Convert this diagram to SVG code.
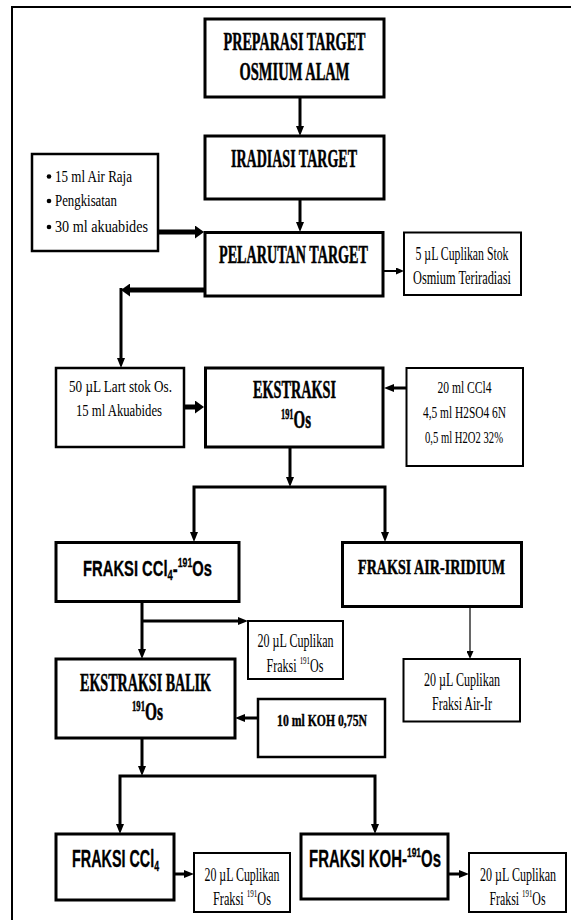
<svg xmlns="http://www.w3.org/2000/svg" width="571" height="920" viewBox="0 0 571 920">
<defs>
<style>
.box{fill:#fff;stroke:#000;stroke-width:3}
.mbox{fill:#fff;stroke:#000;stroke-width:2.5}
.sbox{fill:#fff;stroke:#000;stroke-width:2}
.t{font-family:"Liberation Serif","Times New Roman",serif;font-weight:bold;font-size:25px;text-anchor:middle;fill:#000;stroke:#000;stroke-width:0.5}
.s{font-family:"Liberation Sans",Arial,sans-serif;font-weight:bold;font-size:23px;text-anchor:middle;fill:#000;stroke:#000;stroke-width:0.3}
.r{font-family:"Liberation Serif","Times New Roman",serif;font-size:19px;text-anchor:middle;fill:#000}
.rl{font-family:"Liberation Serif","Times New Roman",serif;font-size:17px;text-anchor:start;fill:#000}
.ln{fill:none;stroke:#000;stroke-width:3}
.thick{stroke-width:5}
.thin{stroke-width:2}
.hair{stroke-width:1.2}
</style>
<marker id="ah" markerUnits="userSpaceOnUse" viewBox="0 0 10 8" markerWidth="10" markerHeight="8" refX="0" refY="4" orient="auto-start-reverse"><path d="M0,0L10,4L0,8z" fill="#000"/></marker>
<marker id="ahb" markerUnits="userSpaceOnUse" viewBox="0 0 9 13" markerWidth="9" markerHeight="13" refX="0" refY="6.5" orient="auto"><path d="M0,0L9,6.5L0,13z" fill="#000"/></marker>
<marker id="ahs" markerUnits="userSpaceOnUse" viewBox="0 0 8 7" markerWidth="8" markerHeight="7" refX="0" refY="3.5" orient="auto"><path d="M0,0L8,3.5L0,7z" fill="#000"/></marker>
</defs>
<rect width="571" height="920" fill="#fff"/>
<path d="M12,920V7H571" fill="none" stroke="#000" stroke-width="2"/>

<g id="connectors">
<path class="ln" d="M300,97V126" marker-end="url(#ah)"/>
<path class="ln" d="M300,199V222" marker-end="url(#ah)"/>
<path class="ln thick" d="M158,232H195" marker-end="url(#ahb)"/>
<path class="ln thin" d="M383,271H396" marker-end="url(#ahs)"/>
<path class="ln thick" d="M205,290H130" marker-end="url(#ahb)"/>
<path class="ln" d="M121,288V358" marker-end="url(#ah)"/>
<path class="ln thick" d="M184,407H195" marker-end="url(#ahb)"/>
<path class="ln" d="M406,388H394" marker-end="url(#ah)"/>
<path class="ln" d="M290,447V477" marker-end="url(#ah)"/>
<path class="ln" d="M194,532V487H385V532" marker-start="url(#ah)" marker-end="url(#ah)"/>
<path class="ln" d="M142,602V649" marker-end="url(#ah)"/>
<path class="ln" d="M142,621H238" marker-end="url(#ah)"/>
<path class="ln hair" d="M470,607V651" marker-end="url(#ahs)"/>
<path class="ln" d="M258,718H245" marker-end="url(#ah)"/>
<path class="ln" d="M142,738V766" marker-end="url(#ah)"/>
<path class="ln" d="M120,824V776H375V824" marker-start="url(#ah)" marker-end="url(#ah)"/>
<path class="ln" d="M174,874H184" marker-end="url(#ah)"/>
<path class="ln" d="M448,874H459" marker-end="url(#ah)"/>
</g>

<g id="n-preparasi">
<rect class="box" x="205" y="19" width="179" height="78"/>
<text class="t" transform="translate(294.5,50) scale(0.56,1)" textLength="253.6" lengthAdjust="spacingAndGlyphs">PREPARASI TARGET</text>
<text class="t" transform="translate(294.5,80) scale(0.56,1)" textLength="196.4" lengthAdjust="spacingAndGlyphs">OSMIUM ALAM</text>
</g>
<g id="n-iradiasi">
<rect class="box" x="205" y="136" width="179" height="63"/>
<text class="t" transform="translate(294,166.7) scale(0.56,1)" textLength="225" lengthAdjust="spacingAndGlyphs">IRADIASI TARGET</text>
</g>
<g id="n-bahan-pelarutan">
<rect class="mbox" x="32" y="154" width="126" height="97"/>
<circle cx="49" cy="176.5" r="2.3"/>
<circle cx="49" cy="201" r="2.3"/>
<circle cx="49" cy="227" r="2.3"/>
<text class="rl" transform="translate(55,181.7) scale(0.77,1)" textLength="100" lengthAdjust="spacingAndGlyphs">15 ml Air Raja</text>
<text class="rl" transform="translate(55,206) scale(0.77,1)" textLength="80.5" lengthAdjust="spacingAndGlyphs">Pengkisatan</text>
<text class="rl" transform="translate(55,232) scale(0.77,1)" textLength="120.8" lengthAdjust="spacingAndGlyphs">30 ml akuabides</text>
</g>
<g id="n-pelarutan">
<rect class="box" x="205" y="232.5" width="178" height="63.5"/>
<text class="t" transform="translate(293.5,263) scale(0.56,1)" textLength="266" lengthAdjust="spacingAndGlyphs">PELARUTAN TARGET</text>
</g>
<g id="n-cuplikan-stok">
<rect class="sbox" x="404" y="232.5" width="117" height="62.5"/>
<text class="r" style="font-size:18px" transform="translate(462,260) scale(0.65,1)" textLength="143" lengthAdjust="spacingAndGlyphs">5 µL Cuplikan Stok</text>
<text class="r" style="font-size:18px" transform="translate(462,284) scale(0.65,1)" textLength="150.8" lengthAdjust="spacingAndGlyphs">Osmium Teriradiasi</text>
</g>
<g id="n-lart-stok">
<rect class="mbox" x="56" y="368" width="128" height="79"/>
<text class="r" style="font-size:17px" transform="translate(120.5,391.7) scale(0.76,1)" textLength="135.5" lengthAdjust="spacingAndGlyphs">50 µL Lart stok Os.</text>
<text class="r" style="font-size:17px" transform="translate(119,415.7) scale(0.76,1)" textLength="113.2" lengthAdjust="spacingAndGlyphs">15 ml Akuabides</text>
</g>
<g id="n-ekstraksi">
<rect class="box" x="205.5" y="368" width="177.5" height="79"/>
<text class="t" transform="translate(294.5,398) scale(0.56,1)" textLength="148.2" lengthAdjust="spacingAndGlyphs">EKSTRAKSI</text>
<text class="t" transform="translate(296,428) scale(0.6,1)" textLength="50" lengthAdjust="spacingAndGlyphs"><tspan font-size="14" dy="-9">191</tspan><tspan dy="9">Os</tspan></text>
</g>
<g id="n-reagen-ekstraksi">
<rect class="sbox" x="406.5" y="368" width="116.5" height="98"/>
<text class="r" style="font-size:17px" transform="translate(464.5,393) scale(0.66,1)" textLength="81.8" lengthAdjust="spacingAndGlyphs">20 ml CCl4</text>
<text class="r" style="font-size:17px" transform="translate(464.5,418) scale(0.66,1)" textLength="125.8" lengthAdjust="spacingAndGlyphs">4,5 ml H2SO4 6N</text>
<text class="r" style="font-size:17px" transform="translate(464,443) scale(0.66,1)" textLength="118.2" lengthAdjust="spacingAndGlyphs">0,5 ml H2O2 32%</text>
</g>
<g id="n-fraksi-ccl4-os">
<rect class="box" x="56" y="542.5" width="183" height="59"/>
<text class="s" style="font-size:22px" transform="translate(147.5,576) scale(0.67,1)" textLength="192.5" lengthAdjust="spacingAndGlyphs">FRAKSI CCl<tspan font-size="14" dy="4">4</tspan><tspan dy="-4">-</tspan><tspan font-size="13" dy="-9">191</tspan><tspan dy="9">Os</tspan></text>
</g>
<g id="n-fraksi-air-iridium">
<rect class="box" x="342.5" y="542.5" width="179" height="64"/>
<text class="t" style="font-size:22px" transform="translate(431.5,574) scale(0.64,1)" textLength="229.7" lengthAdjust="spacingAndGlyphs">FRAKSI AIR-IRIDIUM</text>
</g>
<g id="n-cuplikan-fraksi-os-1">
<rect class="sbox" x="248" y="621" width="95" height="58"/>
<text class="r" transform="translate(295.5,647) scale(0.64,1)" textLength="118.8" lengthAdjust="spacingAndGlyphs">20 µL Cuplikan</text>
<text class="r" transform="translate(295,672) scale(0.64,1)" textLength="89" lengthAdjust="spacingAndGlyphs">Fraksi <tspan font-size="11" dy="-8">191</tspan><tspan dy="8">Os</tspan></text>
</g>
<g id="n-cuplikan-air-ir">
<rect class="sbox" x="403.5" y="659" width="116.5" height="62.5"/>
<text class="r" transform="translate(462,686) scale(0.64,1)" textLength="118.8" lengthAdjust="spacingAndGlyphs">20 µL Cuplikan</text>
<text class="r" transform="translate(462,710) scale(0.64,1)" textLength="93.8" lengthAdjust="spacingAndGlyphs">Fraksi Air-Ir</text>
</g>
<g id="n-ekstraksi-balik">
<rect class="box" x="56" y="659" width="179" height="79"/>
<text class="t" transform="translate(145.5,690.7) scale(0.56,1)" textLength="234" lengthAdjust="spacingAndGlyphs">EKSTRAKSI BALIK</text>
<text class="t" transform="translate(147.5,720) scale(0.6,1)" textLength="51.7" lengthAdjust="spacingAndGlyphs"><tspan font-size="14" dy="-9">191</tspan><tspan dy="9">Os</tspan></text>
</g>
<g id="n-koh">
<rect class="mbox" x="258" y="699" width="127" height="58"/>
<text class="t" style="font-size:17px;stroke-width:0.4" transform="translate(322,726) scale(0.69,1)" textLength="130.4" lengthAdjust="spacingAndGlyphs">10 ml KOH 0,75N</text>
</g>
<g id="n-fraksi-ccl4">
<rect class="box" x="56" y="834" width="118" height="66"/>
<text class="s" transform="translate(115.5,867) scale(0.624,1)" textLength="139.4" lengthAdjust="spacingAndGlyphs">FRAKSI CCl<tspan font-size="14" dy="4">4</tspan></text>
</g>
<g id="n-cuplikan-fraksi-os-2">
<rect class="sbox" x="194" y="853" width="96" height="59"/>
<text class="r" transform="translate(242,881) scale(0.64,1)" textLength="117.2" lengthAdjust="spacingAndGlyphs">20 µL Cuplikan</text>
<text class="r" transform="translate(242,905) scale(0.64,1)" textLength="90.6" lengthAdjust="spacingAndGlyphs">Fraksi <tspan font-size="11" dy="-8">191</tspan><tspan dy="8">Os</tspan></text>
</g>
<g id="n-fraksi-koh-os">
<rect class="box" x="301" y="834" width="147" height="65"/>
<text class="s" transform="translate(375,867) scale(0.65,1)" textLength="203" lengthAdjust="spacingAndGlyphs">FRAKSI KOH-<tspan font-size="13" dy="-10">191</tspan><tspan dy="10">Os</tspan></text>
</g>
<g id="n-cuplikan-fraksi-os-3">
<rect class="sbox" x="469" y="853" width="97" height="59"/>
<text class="r" transform="translate(518,881) scale(0.64,1)" textLength="118.8" lengthAdjust="spacingAndGlyphs">20 µL Cuplikan</text>
<text class="r" transform="translate(517.5,905) scale(0.64,1)" textLength="87.5" lengthAdjust="spacingAndGlyphs">Fraksi <tspan font-size="11" dy="-8">191</tspan><tspan dy="8">Os</tspan></text>
</g>
</svg>
